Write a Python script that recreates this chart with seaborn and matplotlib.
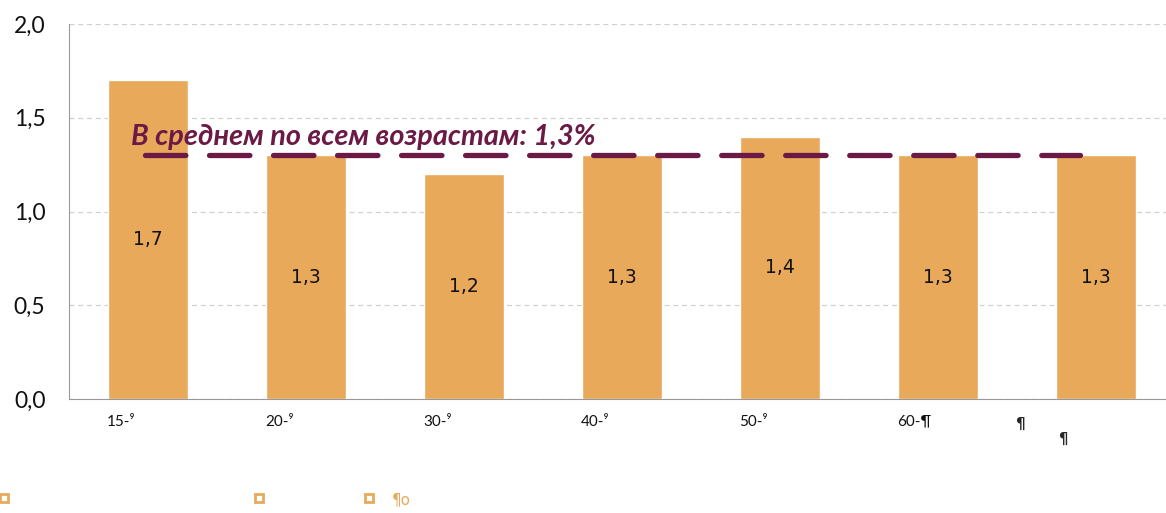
import numpy as np
import pandas as pd
import matplotlib
matplotlib.use("Agg")
import matplotlib.pyplot as plt
import seaborn as sns
from matplotlib.lines import Line2D

# data
groups = ["15-⁹", "20-⁹", "30-⁹", "40-⁹", "50-⁹", "60-¶", "¶"]
values = [1.7, 1.3, 1.2, 1.3, 1.4, 1.3, 1.3]
value_labels = ["1,7", "1,3", "1,2", "1,3", "1,4", "1,3", "1,3"]
avg_value = 1.3
avg_text = "В среднем по всем возрастам: 1,3%"
yticks = [0.0, 0.5, 1.0, 1.5, 2.0]
ytick_labels = ["0,0", "0,5", "1,0", "1,5", "2,0"]

bar_color = "#E8A95B"
avg_color = "#6B1A45"

sns.set_style("white")
plt.rcParams["font.family"] = ["Lato", "DejaVu Sans"]

df = pd.DataFrame({"group": groups, "value": values})

fig = plt.figure(figsize=(11.66, 5.13), dpi=100)
ax = fig.add_axes([69 / 1166, 1 - 399 / 513, 1106 / 1166, 375 / 513])

sns.barplot(data=df, x="group", y="value", color=bar_color, width=0.506,
            saturation=1, ax=ax, zorder=2)

ax.set_ylim(0, 2.0)
ax.set_xlim(-0.5, 6.5)
ax.set_yticks(yticks)
ax.set_yticklabels(ytick_labels, fontsize=16.5, color="#111111")
ax.yaxis.grid(True, linestyle=(0, (4, 3)), color="#d0d0d0", linewidth=0.9, zorder=0)
ax.set_axisbelow(True)

# ticks between categories, labels at left edge of bars
ax.set_xticks(np.arange(0.5, 6.5, 1.0))
ax.set_xticklabels([])
ax.tick_params(axis="x", direction="out", length=6, color="#999999", width=1)
ax.tick_params(axis="y", direction="out", length=6, color="#999999", width=1, pad=11)
for i, g in enumerate(groups[:-1]):
    ax.text(i - 0.26, -0.12, g, ha="left", va="center", fontsize=11,
            color="#111111", clip_on=False)
ax.text(5.49, -0.135, groups[-1], ha="left", va="center", fontsize=11, clip_on=False,
        fontweight="bold", family=["DejaVu Sans"])
ax.text(5.76, -0.215, groups[-1], ha="left", va="center", fontsize=10.5, clip_on=False,
        fontweight="bold", family=["DejaVu Sans"])

# value labels in the middle of bars
for i, (v, lab) in enumerate(zip(values, value_labels)):
    ax.text(i, v / 2, lab, ha="center", va="center", fontsize=13.5,
            color="#111111", family=["DejaVu Sans"])

# average line
ax.hlines(avg_value, -0.02, 5.9, colors=avg_color, linewidth=3.8,
          linestyles=(0, (7.65, 4.48)), capstyle="round", zorder=3)
ax.text(-0.11, avg_value + 0.1, avg_text, ha="left", va="center", fontsize=20.8,
        fontweight="bold", fontstyle="italic", color=avg_color, zorder=4)

for side in ["top", "right"]:
    ax.spines[side].set_visible(False)
ax.spines["left"].set_color("#999999")
ax.spines["bottom"].set_color("#999999")
ax.set_xlabel("")
ax.set_ylabel("")

# remnants of the legend at the bottom
for xp in [4, 259, 369]:
    fig.add_artist(Line2D([xp / 1166], [1 - 498 / 513], marker="s", markersize=6,
                          markerfacecolor="white", markeredgecolor=bar_color,
                          markeredgewidth=2, linestyle="none"))
fig.text(392 / 1166, 1 - 500 / 513, "¶o", fontsize=11, color=bar_color,
         ha="left", va="center", family=["DejaVu Sans"])

fig.savefig("out.png", dpi=100)
